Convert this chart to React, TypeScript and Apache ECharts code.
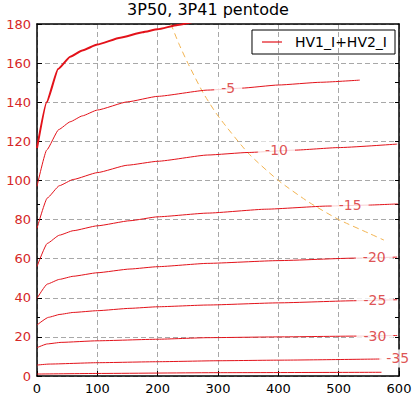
import React, { useEffect, useRef } from "react";
import * as echarts from "echarts";

const TITLE = "3P50, 3P41 pentode";
const LEGEND_NAME = "HV1_I+HV2_I";
const X_TICKS = [0, 100, 200, 300, 400, 500, 600];
const Y_TICKS = [0, 20, 40, 60, 80, 100, 120, 140, 160, 180];
const RIGHT_TICKS = [20, 30, 40, 60, 80, 88, 100, 120, 140, 150, 160];

const curveG0: number[][] = [[0, 116.5], [16, 140], [35, 157], [55, 163.3], [75, 166.5], [100, 169.5], [138, 173], [175, 175.8], [200, 177.3], [233, 179.5], [260, 181.2]];
const curveG5: number[][] = [[0, 97], [16, 115.5], [36, 126], [55, 130], [75, 133], [100, 136], [150, 140.2], [200, 143], [283, 146.2], [339, 147.2], [400, 148.8], [470, 150.2], [535, 151.3]];
const curveG10: number[][] = [[0, 75.5], [17, 91], [37, 97.3], [60, 100.5], [100, 104], [150, 107.8], [200, 109.8], [283, 113], [350, 114.3], [427, 115.5], [500, 116.8], [597, 118.6]];
const curveG15: number[][] = [[0, 56], [17, 67.8], [37, 72], [60, 74.3], [100, 76.8], [154, 79.4], [200, 81.4], [283, 83.3], [380, 85.3], [482, 86.9], [549, 87.4], [598, 88]];
const curveG20: number[][] = [[0, 39.7], [17, 47], [37, 49.4], [60, 51], [100, 52.8], [154, 54.7], [200, 55.9], [283, 57.6], [400, 59], [529, 60.3], [597, 60.8]];
const curveG25: number[][] = [[0, 26.1], [19, 30], [38, 31.5], [60, 32.5], [100, 33.4], [154, 34.6], [200, 35.4], [283, 36.3], [400, 37.4], [529, 38.5], [597, 39]];
const curveG30: number[][] = [[0, 14.5], [17, 16.4], [40, 17.2], [100, 18], [200, 18.8], [283, 19.6], [400, 20], [529, 20.4], [597, 20.7]];
const curveG35: number[][] = [[0, 5.6], [20, 6.1], [100, 6.8], [200, 7.3], [300, 7.8], [400, 8.1], [571, 8.7]];
const curveG40: number[][] = [[0, 1.0], [100, 1.3], [300, 1.7], [571, 1.9]];

const powerLimit: number[][] = [[222, 180], [235, 170], [250, 160], [275, 145], [300, 133], [350, 114], [400, 100], [450, 89], [500, 80], [550, 73], [575, 69.5]];

const curveLabels: (number | string)[][] = [
  [317, 147.2, "-5"],
  [397, 115.5, "-10"],
  [519, 87.4, "-15"],
  [559, 60.7, "-20"],
  [560, 38.9, "-25"],
  [560, 20.6, "-30"],
  [598, 9, "-35"],
];

const RED = "#e3121a";
const LABEL_RED = "#d62728";
const FONT = "DejaVu Sans";

export default function App() {
  const ref = useRef<HTMLDivElement>(null);
  useEffect(() => {
    if (!ref.current) return;
    const chart = echarts.init(ref.current, undefined, { renderer: "svg" });
    const thin = [curveG5, curveG10, curveG15, curveG20, curveG25, curveG30, curveG35, curveG40];
    const gridLine = { show: true, lineStyle: { color: "#a8a8a8", type: [5, 3], width: 1 } };
    const series: any[] = [
      {
        name: "Vg0",
        type: "line",
        data: curveG0,
        symbol: "none",
        smooth: 0.15,
        smoothMonotone: "x",
        lineStyle: { color: RED, width: 2 },
        itemStyle: { color: RED },
        z: 3,
      },
      ...thin.map((d) => ({
        name: LEGEND_NAME,
        type: "line",
        data: d,
        symbol: "none",
        smooth: 0.15,
        smoothMonotone: "x",
        lineStyle: { color: RED, width: 1 },
        itemStyle: { color: RED },
        z: 3,
      })),
      {
        name: "Pmax",
        type: "line",
        data: powerLimit,
        symbol: "none",
        smooth: 0.2,
        lineStyle: { color: "#f2b452", width: 1, type: [6, 4] },
        itemStyle: { color: "#f2b452" },
        z: 2,
      },
      {
        name: "labels",
        type: "scatter",
        data: curveLabels,
        symbolSize: 0,
        clip: false,
        z: 10,
        label: {
          show: true,
          position: "inside",
          formatter: (p: any) => p.value[2],
          color: LABEL_RED,
          fontSize: 14,
          fontFamily: FONT,
          backgroundColor: "#ffffff",
          padding: [2, 7],
        },
      },
    ];
    chart.setOption({
      animation: false,
      backgroundColor: "#ffffff",
      textStyle: { fontFamily: FONT },
      title: {
        text: TITLE,
        left: "center",
        top: 1,
        padding: 0,
        textStyle: { fontSize: 16, fontWeight: "normal", color: "#000", fontFamily: FONT },
      },
      legend: {
        data: [{ name: LEGEND_NAME, icon: "rect", itemStyle: { color: RED } }],
        right: 21,
        top: 30,
        borderColor: "#000",
        borderWidth: 1,
        borderRadius: 0,
        padding: [5, 8, 5, 10],
        itemWidth: 20,
        itemHeight: 1.2,
        textStyle: { fontSize: 14, color: "#000", fontFamily: FONT, padding: [0, 0, 0, 8] },
        selectedMode: false,
      },
      grid: { left: 37, right: 17, top: 24, bottom: 22, containLabel: false, outerBoundsMode: "none" },
      xAxis: [
        {
          type: "value",
          min: 0,
          max: 600,
          interval: 100,
          position: "bottom",
          axisLine: { show: true, onZero: false, lineStyle: { color: "#000", width: 1.5 } },
          axisTick: { show: true, inside: true, length: 5, lineStyle: { color: "#000" } },
          axisLabel: { color: "#000", fontSize: 13, margin: 6, fontFamily: FONT, customValues: X_TICKS },
          splitLine: gridLine,
        },
        {
          type: "value",
          min: 0,
          max: 600,
          interval: 100,
          position: "top",
          axisLine: { show: true, onZero: false, lineStyle: { color: "#000", width: 1.5 } },
          axisTick: { show: false },
          axisLabel: { show: false },
          splitLine: { show: false },
        },
      ],
      yAxis: [
        {
          type: "value",
          min: 0,
          max: 180,
          interval: 20,
          position: "left",
          axisLine: { show: true, onZero: false, lineStyle: { color: "#000", width: 1.5 } },
          axisTick: { show: true, inside: true, length: 5, lineStyle: { color: "#000" } },
          axisLabel: { color: LABEL_RED, fontSize: 13, margin: 6, fontFamily: FONT, customValues: Y_TICKS },
          splitLine: gridLine,
        },
        {
          type: "value",
          min: 0,
          max: 180,
          interval: 10,
          position: "right",
          axisLine: { show: true, onZero: false, lineStyle: { color: "#000", width: 1.5 } },
          axisTick: { show: true, inside: true, length: 4, customValues: RIGHT_TICKS, lineStyle: { color: "#000" } },
          axisLabel: { show: false },
          splitLine: { show: false },
        },
        {
          type: "value",
          min: 0,
          max: 180,
          interval: 10,
          position: "right",
          axisLine: { show: false },
          axisTick: { show: true, inside: false, length: 3, customValues: RIGHT_TICKS, lineStyle: { color: "#000" } },
          axisLabel: { show: false },
          splitLine: { show: false },
        },
      ],
      series: series.map((s) => ({ ...s, silent: true, emphasis: { disabled: true } })),
    });
    return () => chart.dispose();
  }, []);
  return (
    <div
      ref={ref}
      style={{ position: "fixed", left: 0, top: 0, width: 416, height: 398 }}
    />
  );
}
